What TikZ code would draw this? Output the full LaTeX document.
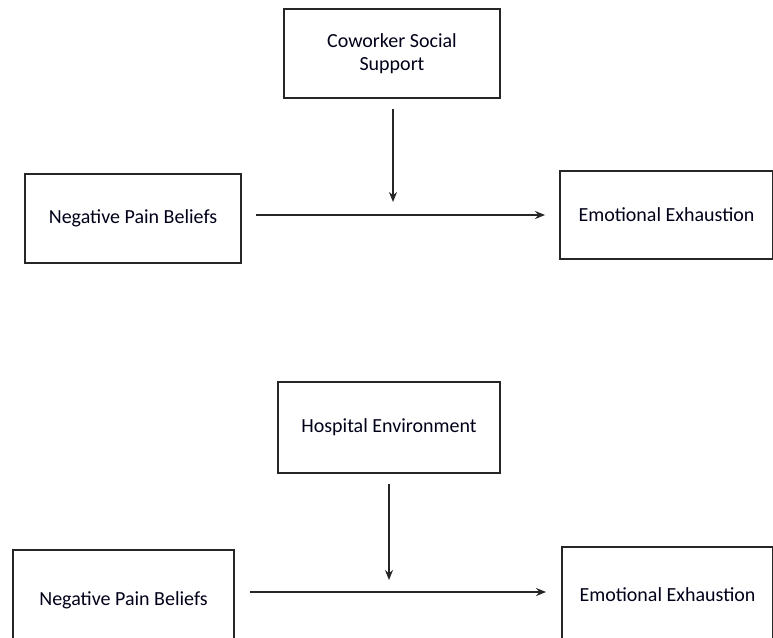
\documentclass[tikz,border=0pt]{standalone}
\usepackage{fontspec}
\setmainfont{Carlito}
\usetikzlibrary{arrows.meta}
\begin{document}
\begin{tikzpicture}[x=1pt,y=-1pt,
  box/.style={draw=black!85,line width=1.9pt,inner sep=0pt,align=center,
    font=\fontsize{20}{23}\selectfont,text=black!90!blue},
  conn/.style={line width=1.9pt,draw=black!85,-{Stealth[length=10pt,width=8pt]}}]
\useasboundingbox (0,0) rectangle (773,637);
\clip (0,0) rectangle (773,637);
% top model
\node[box,minimum width=216pt,minimum height=89pt] (css) at (392,53.5) {Coworker Social\\Support};
\node[box,minimum width=216pt,minimum height=89pt] (npb1) at (133,218.5) {Negative Pain Beliefs};
\node[box,minimum width=213pt,minimum height=88pt] (ee1) at (666.5,215) {Emotional Exhaustion};
\coordinate (m1) at (393,202);
\draw[conn,shorten <=14pt,shorten >=14pt] (npb1.east |- 0,215) -- (ee1.west |- 0,215);
\draw[conn] ([yshift=-10pt]css.south -| m1) -- (m1);
% bottom model
\node[box,minimum width=222pt,minimum height=91pt] (he) at (389,427.5) {Hospital Environment};
\node[box,minimum width=221pt,minimum height=100pt] (npb2) at (123.5,600) {Negative Pain Beliefs};
\node[box,minimum width=211pt,minimum height=96pt] (ee2) at (667.5,595) {Emotional Exhaustion};
\coordinate (m2) at (389,580);
\draw[conn,shorten <=15pt,shorten >=15pt] (npb2.east |- 0,592) -- (ee2.west |- 0,592);
\draw[conn] ([yshift=-10pt]he.south -| m2) -- (m2);
\end{tikzpicture}
\end{document}
